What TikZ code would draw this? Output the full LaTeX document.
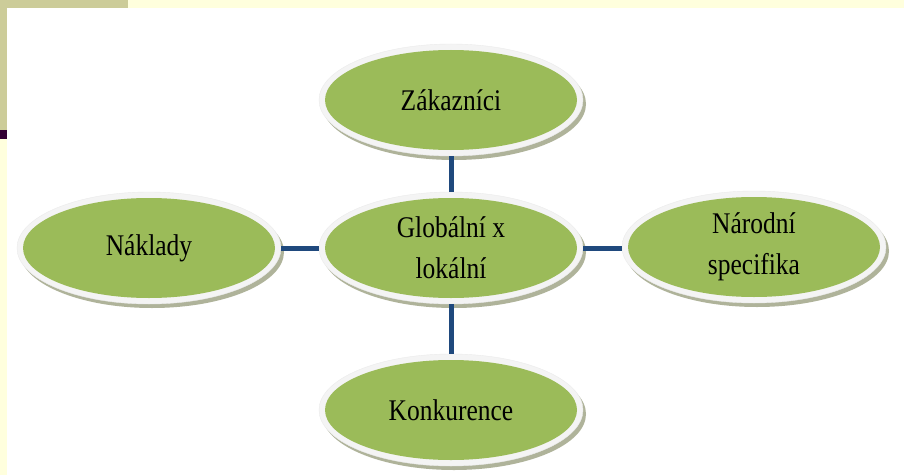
\documentclass[tikz,border=0pt]{standalone}
\usepackage{fontspec}
\newfontfamily\dfont[FakeStretch=0.85]{Liberation Serif}
\usetikzlibrary{shapes.geometric,shadows}
\definecolor{ovgreen}{HTML}{9BBB59}
\definecolor{ovrim}{HTML}{F4F4F4}
\definecolor{ovshadow}{HTML}{8E9470}
\definecolor{conblue}{HTML}{1F497D}
\definecolor{bartan}{HTML}{CCCC99}
\definecolor{barlight}{HTML}{FFFFDD}
\definecolor{barpurple}{HTML}{330033}
\tikzset{
  oval/.style={ellipse, minimum width=264pt, minimum height=112pt, inner sep=0pt,
    fill=ovrim, draw=black!8, line width=0.4pt, align=center,
    font=\dfont\fontsize{30}{37}\selectfont,
    drop shadow={shadow xshift=3pt, shadow yshift=-4pt, opacity=0.7, fill=ovshadow},
    path picture={\fill[ovgreen] (path picture bounding box.center) ellipse (126pt and 50pt);}},
  conn/.style={draw=conblue, line width=5pt}
}
\begin{document}
\begin{tikzpicture}[x=1pt,y=1pt]
\useasboundingbox (0,0) rectangle (904,475);
\fill[white] (0,0) rectangle (904,475);
% frame bars
\fill[bartan] (0,467) rectangle (128,475);
\fill[barlight] (128,467) rectangle (904,475);
\fill[bartan] (0,345) rectangle (7,467);
\fill[barpurple] (0,336) rectangle (7,345);
\fill[barlight] (0,0) rectangle (7,336);
% nodes
\node[oval] (zak) at (451,375) {Zákazníci};
\node[oval] (glob) at (451,227) {Globální x\\[4pt]lokální};
\node[oval] (nak) at (149,227) {Náklady};
\node[oval] (nar) at (754,228) {Národní\\[4pt]specifika};
\node[oval] (kon) at (451,65) {Konkurence};
% connectors
\draw[conn] (zak) -- (glob);
\draw[conn] (nak) -- (glob);
\draw[conn] (glob.east) -- (nar.west |- glob.east);
\draw[conn] (glob) -- (kon);
\end{tikzpicture}
\end{document}
